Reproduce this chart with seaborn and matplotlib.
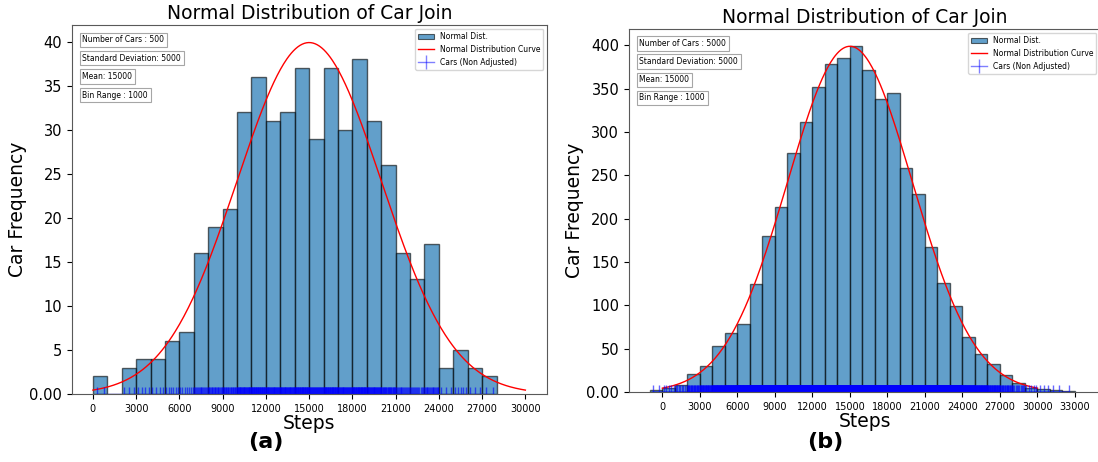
import numpy as np
import pandas as pd
import matplotlib
matplotlib.use("Agg")
import matplotlib.pyplot as plt
import seaborn as sns
from matplotlib.lines import Line2D
from matplotlib.patches import Patch

# ---------------- data ----------------
BIN_WIDTH = 1000
MEAN = 15000
STD_DEV = 5000

# panel (a): 500 cars
a_n_cars = 500
a_bin_starts = list(range(0, 28000, 1000))
a_counts = [2, 0, 3, 4, 4, 6, 7, 16, 19, 21, 32, 36, 31, 32, 37, 29,
            37, 30, 38, 31, 26, 16, 13, 17, 3, 5, 3, 2]
a_xticks = list(range(0, 30001, 3000))
a_yticks = [0, 5, 10, 15, 20, 25, 30, 35, 40]
a_ytick_labels = ["0.00", "5", "10", "15", "20", "25", "30", "35", "40"]

# panel (b): 5000 cars
b_n_cars = 5000
b_bin_starts = list(range(-1000, 33000, 1000))
b_counts = [2, 5, 8, 21, 30, 53, 68, 79, 125, 180, 213, 276, 312, 352, 379, 385,
            399, 371, 338, 345, 258, 228, 167, 126, 99, 64, 44, 32, 20, 10,
            5, 3, 2, 1]
b_xticks = list(range(0, 33001, 3000))
b_yticks = [0, 50, 100, 150, 200, 250, 300, 350, 400]
b_ytick_labels = ["0.00", "50", "100", "150", "200", "250", "300", "350", "400"]

curve_range = (0, 30000)

TITLE = "Normal Distribution of Car Join"
XLABEL = "Steps"
YLABEL = "Car Frequency"
LEGEND_LABELS = ["Normal Dist.", "Normal Distribution Curve", "Cars (Non Adjusted)"]
PANEL_LABELS = ["(a)", "(b)"]

BAR_COLOR = "#1f77b4"
BAR_EDGE = (0.0, 0.0, 0.0, 0.6)
RUG_COLOR = "blue"
CURVE_COLOR = "red"


def rug_positions(starts, counts, width):
    pos = []
    for s, c in zip(starts, counts):
        for k in range(c):
            pos.append(s + (k + 0.5) * width / c)
    return np.array(pos)


def draw_panel(ax, starts, counts, n_cars, xticks, yticks, ylabels, xlim):
    df = pd.DataFrame({"center": np.array(starts, dtype=float) + BIN_WIDTH / 2,
                       "count": np.array(counts, dtype=float)})
    lo = float(starts[0])
    hi = float(starts[-1] + BIN_WIDTH)

    sns.histplot(data=df, x="center", weights="count", binwidth=BIN_WIDTH,
                 binrange=(lo, hi), color=BAR_COLOR, alpha=0.7,
                 edgecolor=BAR_EDGE, linewidth=1.0, ax=ax)

    # theoretical curve from stated parameters
    xs = np.linspace(curve_range[0], curve_range[1], 400)
    ys = n_cars * BIN_WIDTH / (STD_DEV * np.sqrt(2 * np.pi)) * \
        np.exp(-0.5 * ((xs - MEAN) / STD_DEV) ** 2)
    sns.lineplot(x=xs, y=ys, color=CURVE_COLOR, linewidth=1.0, ax=ax)
    peak = ys.max()

    rug = rug_positions(starts, counts, BIN_WIDTH)
    ax.plot(rug, np.zeros_like(rug), marker="|", color=RUG_COLOR, alpha=0.6,
            markersize=10.5, markeredgewidth=1.0, linewidth=1.0)

    ax.set_xlim(*xlim)
    ax.set_ylim(0, peak * 1.05)
    ax.set_xticks(xticks)
    ax.set_xticklabels([str(t) for t in xticks], fontsize=7)
    ax.set_yticks(yticks)
    ax.set_yticklabels(ylabels, fontsize=10.5)
    ax.set_title(TITLE, fontsize=13.5, pad=4)
    ax.set_xlabel(XLABEL, fontsize=13.5, labelpad=0)
    ax.set_ylabel(YLABEL, fontsize=13.5, labelpad=2)

    info = [f"Number of Cars : {n_cars}", f"Standard Deviation: {STD_DEV}",
            f"Mean: {MEAN}", f"Bin Range : {BIN_WIDTH}"]
    for i, s in enumerate(info):
        ax.text(0.022, 0.96 - i * 0.05, s, transform=ax.transAxes, fontsize=5.5,
                va="center", ha="left",
                bbox=dict(boxstyle="square,pad=0.35", fc="white", ec="0.65", lw=0.8))

    handles = [
        Patch(facecolor=(0.122, 0.467, 0.706, 0.7), edgecolor=BAR_EDGE, linewidth=0.8),
        Line2D([0], [0], color=CURVE_COLOR, lw=1.0),
        Line2D([0], [0], color=RUG_COLOR, alpha=0.5, marker="|", markersize=10.5,
               markeredgewidth=1.0, lw=1.0),
    ]
    ax.legend(handles, LEGEND_LABELS, loc="upper right", fontsize=5.5)
    for sp in ax.spines.values():
        sp.set_color("0.35")


fig = plt.figure(figsize=(10.98, 4.62), dpi=100)
W, H = 1098, 462
ax1 = fig.add_axes([72 / W, (H - 394) / H, (547 - 72) / W, (394 - 25) / H])
ax2 = fig.add_axes([629 / W, (H - 392) / H, (1100 - 629) / W, (392 - 29) / H])

draw_panel(ax1, a_bin_starts, a_counts, a_n_cars, a_xticks, a_yticks,
           a_ytick_labels, (-1450, 31500))
draw_panel(ax2, b_bin_starts, b_counts, b_n_cars, b_xticks, b_yticks,
           b_ytick_labels, (-2670, 35000))

fig.text(266 / W, 1 - 442 / H, PANEL_LABELS[0], fontsize=16, fontweight="bold",
         ha="center", va="center")
fig.text(825 / W, 1 - 442 / H, PANEL_LABELS[1], fontsize=16, fontweight="bold",
         ha="center", va="center")

fig.savefig("out.png", dpi=100)
